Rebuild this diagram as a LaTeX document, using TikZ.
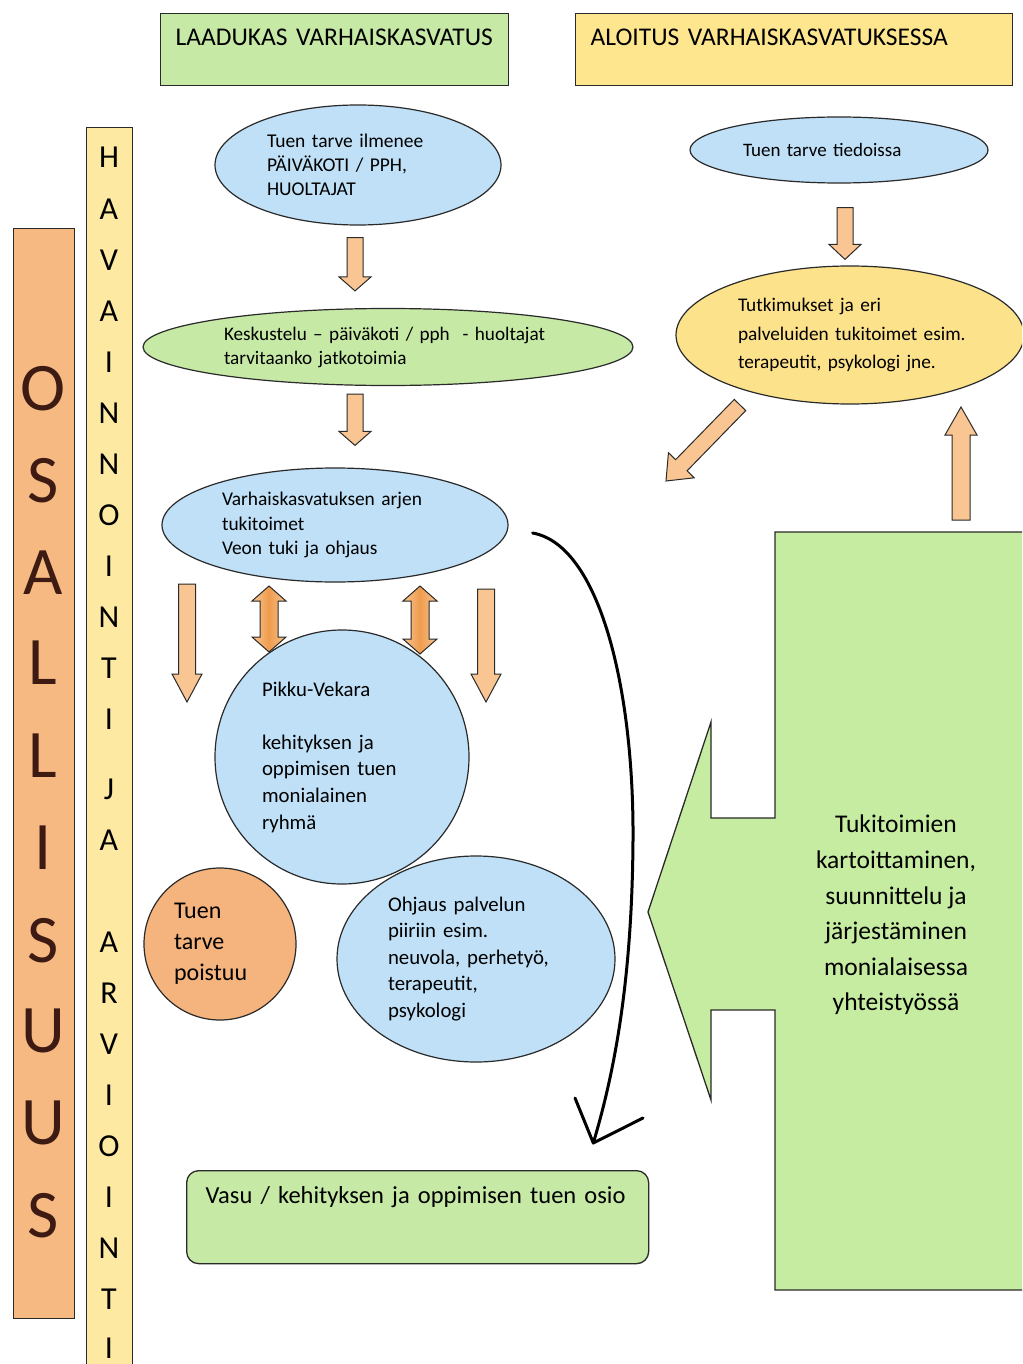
\documentclass[tikz,border=0pt]{standalone}
\usepackage{fontspec}
\setmainfont{Carlito}
\usetikzlibrary{calc,shapes.geometric}
\definecolor{hgreen}{HTML}{C6E9A6}
\definecolor{bgreen}{HTML}{C6ECA2}
\definecolor{hyellow}{HTML}{FEE68F}
\definecolor{eyellow}{HTML}{FDE28C}
\definecolor{barye}{HTML}{FDE9A1}
\definecolor{osaor}{HTML}{F6B982}
\definecolor{osatext}{HTML}{3D1A12}
\definecolor{circor}{HTML}{F5B47E}
\definecolor{eblue}{HTML}{BFE0F6}
\definecolor{arrlight}{HTML}{F9C592}
\definecolor{arrdark}{HTML}{EE9C4E}
\definecolor{outl}{HTML}{2A2A2A}
\newcommand\fsz[2]{\fontsize{#1}{#2}\selectfont}
% block arrow: start, end, half shaft, half head, head length, style
\newcommand\blockarr[6]{%
  \coordinate (bac) at ($(#2)!#5!(#1)$);
  \draw[#6] ($(#1)!#3!90:(#2)$) -- ($(bac)!#3!90:(#2)$) -- ($(bac)!#4!90:(#2)$) -- (#2)
    -- ($(bac)!#4!-90:(#2)$) -- ($(bac)!#3!-90:(#2)$) -- ($(#1)!#3!-90:(#2)$) -- cycle;}
\newcommand\dblarr[6]{%
  \coordinate (bac) at ($(#2)!#5!(#1)$);
  \coordinate (bad) at ($(#1)!#5!(#2)$);
  \draw[#6] (#1) -- ($(bad)!#4!90:(#2)$) -- ($(bad)!#3!90:(#2)$) -- ($(bac)!#3!90:(#2)$)
    -- ($(bac)!#4!90:(#2)$) -- (#2) -- ($(bac)!#4!-90:(#2)$) -- ($(bac)!#3!-90:(#2)$)
    -- ($(bad)!#3!-90:(#2)$) -- ($(bad)!#4!-90:(#2)$) -- cycle;}
\tikzset{
  header/.style={draw=outl, line width=1.3pt, anchor=north west, align=left, inner ysep=0pt, inner xsep=15pt, text height=32pt, text depth=40pt, font=\fsz{25.5}{28}},
  ell/.style={ellipse, draw=outl, line width=1.2pt, inner sep=0pt, align=left},
  blueell/.style={ell, fill=eblue},
  bararr/.style={draw=outl, line width=1pt, fill=arrlight},
  dblarrow/.style={draw=outl, line width=1pt, left color=arrlight, right color=arrlight, middle color=arrdark},
  havletter/.style={font=\fsz{32}{32}, text height=21pt, text depth=0pt, inner sep=0pt},
  osaletter/.style={font=\fsz{68}{68}, text=osatext, text height=44pt, text depth=0pt, inner sep=0pt},
  curvearrow/.style={line width=3pt, line cap=round, line join=round}
}
\begin{document}
\begin{tikzpicture}[x=1pt,y=-1pt]
\useasboundingbox (0,0) rectangle (1022,1364);
\clip (0,0) rectangle (1022,1364);
\fill[white] (0,0) rectangle (1022,1364);

% headers
\node[header, fill=hgreen, text width=318pt] (h1) at (160,13) {LAADUKAS VARHAISKASVATUS};
\node[header, fill=hyellow, text width=407pt] (h2) at (575,13) {ALOITUS VARHAISKASVATUKSESSA};

% vertical bars
\node[draw=outl, line width=1.3pt, fill=barye, anchor=north west, minimum width=46pt, minimum height=1260pt, inner sep=0pt] (hav) at (86,127) {};
\foreach \l/\y in {H/157,A/209,V/260,A/311,I/362,N/413,N/464,O/515,I/566,N/617,T/668,I/719,J/789,A/840,A/942,R/993,V/1044,I/1095,O/1146,I/1197,N/1248,T/1299,I/1348}
  \node[havletter] (hav-\y) at (109,\y) {\l};

\node[draw=outl, line width=1.3pt, fill=osaor, anchor=north west, minimum width=61pt, minimum height=1090pt, inner sep=0pt] (osa) at (13,228) {};
\foreach \l/\y in {O/388,S/480,A/572,L/662,L/755,I/847,S/940,U/1030,U/1122,S/1215}
  \node[osaletter] (osa-\y) at (43,\y) {\l};

% left column
\node[blueell, minimum width=286pt, minimum height=120pt, text width=182pt, font=\fsz{19.5}{24}] (e1) at (358,165) {Tuen tarve ilmenee\\PÄIVÄKOTI / PPH,\\HUOLTAJAT};
\node[ell, fill=hgreen, minimum width=490pt, minimum height=77pt, text width=328pt, font=\fsz{19.2}{24}] (e2) at (388,347) {Keskustelu – päiväkoti / pph\ \ - huoltajat\\tarvitaanko jatkotoimia};
\node[blueell, minimum width=346pt, minimum height=114pt, text width=226pt, font=\fsz{19.4}{24.5}] (e3) at (335,525) {Varhaiskasvatuksen arjen\\tukitoimet\\Veon tuki ja ohjaus};
\node[blueell, circle, minimum size=254pt, text width=160pt, font=\fsz{20.8}{26.6}] (pv) at (342,757) {Pikku-Vekara\\[26.6pt]kehityksen ja\\oppimisen tuen\\monialainen\\ryhmä};
\node[ell, circle, fill=circor, minimum size=152pt, text width=92pt, font=\fsz{24}{31}] (tp) at (220,944) {Tuen\\tarve\\poistuu};
\node[blueell, minimum width=278pt, minimum height=206pt, text width=176pt, font=\fsz{20.8}{26.5}] (oh) at (476,959) {Ohjaus palvelun\\piiriin esim.\\neuvola, perhetyö,\\terapeutit,\\psykologi};
\node[draw=outl, line width=1.3pt, fill=hgreen, rounded corners=12pt, anchor=north west, align=left, text width=424pt, inner xsep=19pt, inner ysep=0pt, text height=33pt, text depth=60pt, font=\fsz{24.5}{26}] (vasu) at (186,1170) {Vasu / kehityksen ja oppimisen tuen osio};

% right column
\node[blueell, minimum width=298pt, minimum height=66pt, text width=192pt, font=\fsz{19}{22}] (e4) at (839,150) {Tuen tarve tiedoissa};
\node[ell, fill=eyellow, minimum width=348pt, minimum height=138pt, text width=244pt, font=\fsz{19.3}{28.5}] (e5) at (850,335) {\hspace*{10pt}Tutkimukset ja eri\\\hspace*{10pt}palveluiden tukitoimet esim.\\\hspace*{10pt}terapeutit, psykologi jne.};

% big green arrow shape
\draw[draw=outl, line width=1.3pt, fill=bgreen, line join=miter]
  (1030,532) -- (775,532) -- (775,818) -- (711,818) -- (711,722) -- (648,912)
  -- (711,1100) -- (711,1010) -- (775,1010) -- (775,1290) -- (1030,1290) -- cycle;
\node[align=center, inner sep=0pt, font=\fsz{25.5}{35.6}] (tk) at (896,915) {Tukitoimien\\kartoittaminen,\\suunnittelu ja\\järjestäminen\\monialaisessa\\yhteistyössä};

% arrow end points
\coordinate (a1s) at ($(e1.south)+(-3,12)$);
\coordinate (a1e) at ($(e2.north)+(-33,-17)$);
\coordinate (a2s) at ($(e2.south)+(-33,8)$);
\coordinate (a2e) at ($(e3.north)+(20,-22)$);
\coordinate (a3s) at (187,584);
\coordinate (a3e) at (187,702);
\coordinate (a4s) at (269,586);
\coordinate (a4e) at (269,652);
\coordinate (a5s) at (420,586);
\coordinate (a5e) at (420,654);
\coordinate (a6s) at (486,589);
\coordinate (a6e) at (486,702);
\coordinate (a7s) at ($(e4.south)+(6,24)$);
\coordinate (a7e) at ($(e5.north)+(-5,-6)$);
\coordinate (a8s) at (740,405);
\coordinate (a8e) at (666,481);
\coordinate (a9s) at (961,520);
\coordinate (a9e) at (961,407);

\blockarr{a1s}{a1e}{8pt}{16pt}{14pt}{bararr}
\blockarr{a2s}{a2e}{8pt}{16pt}{14pt}{bararr}
\blockarr{a3s}{a3e}{8.5pt}{15pt}{28pt}{bararr}
\dblarr{a4s}{a4e}{9pt}{17pt}{15pt}{dblarrow}
\dblarr{a5s}{a5e}{9pt}{17pt}{15pt}{dblarrow}
\blockarr{a6s}{a6e}{8.5pt}{15pt}{28pt}{bararr}
\blockarr{a7s}{a7e}{8pt}{16pt}{15pt}{bararr}
\blockarr{a8s}{a8e}{8pt}{18pt}{22pt}{bararr}
\blockarr{a9s}{a9e}{9pt}{16pt}{28pt}{bararr}

% curved arrow from e3 to vasu
\coordinate (cs) at ($(e3.east)+(24,8)$);
\coordinate (ce) at ($(vasu.north east)+(-56,-27)$);
\coordinate (cl) at (575,1098);
\coordinate (cr) at (643,1118);
\draw[curvearrow] (cs) .. controls (600,545) and (634,690) .. (633,840)
  .. controls (632,990) and (612,1080) .. (ce);
\draw[curvearrow] (cl) -- (ce) -- (cr);
\end{tikzpicture}
\end{document}
